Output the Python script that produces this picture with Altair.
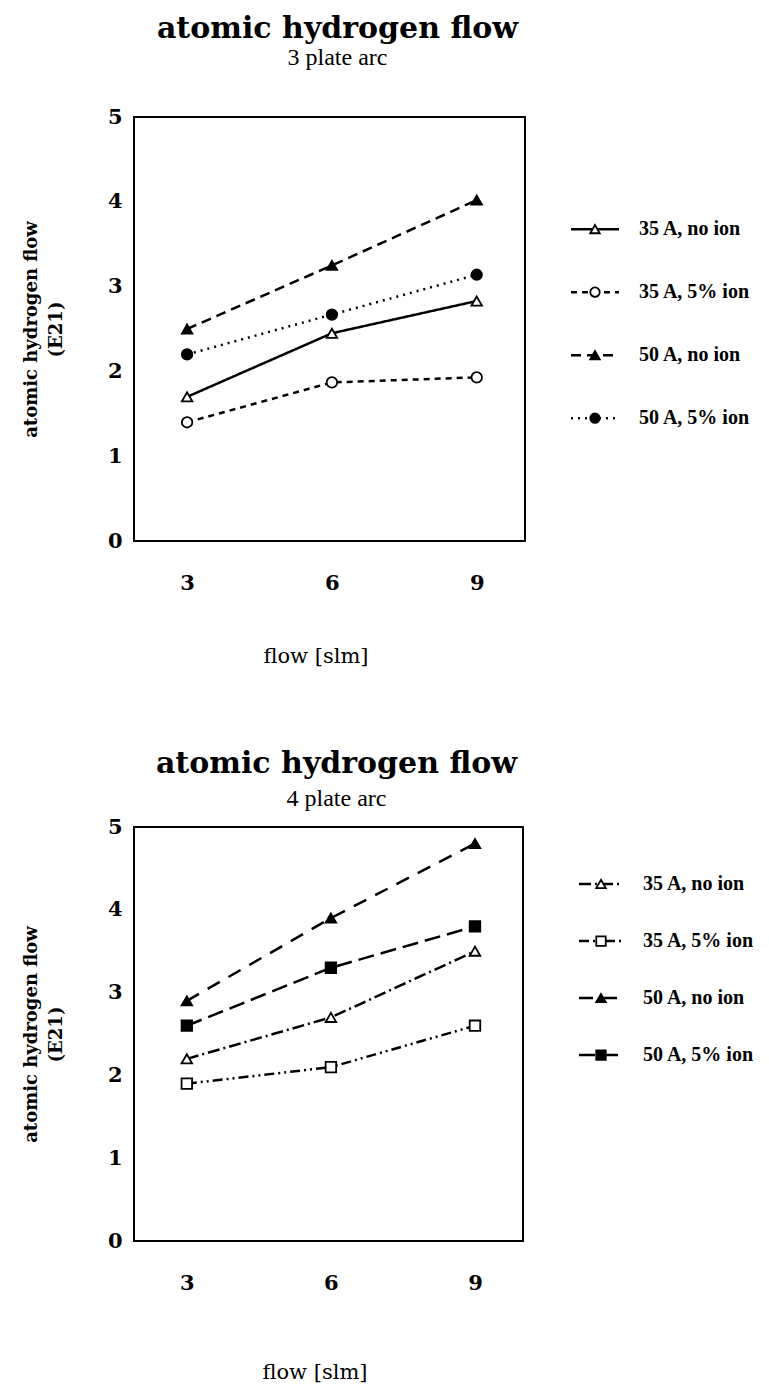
import altair as alt
import pandas as pd

flow = [3, 6, 9]
series = ["35 A, no ion", "35 A, 5% ion", "50 A, no ion", "50 A, 5% ion"]

# 3 plate arc
p3_35_noion = [1.70, 2.45, 2.83]
p3_35_ion = [1.40, 1.87, 1.93]
p3_50_noion = [2.50, 3.25, 4.02]
p3_50_ion = [2.20, 2.67, 3.14]

# 4 plate arc
p4_35_noion = [2.20, 2.70, 3.50]
p4_35_ion = [1.90, 2.10, 2.60]
p4_50_noion = [2.90, 3.90, 4.80]
p4_50_ion = [2.60, 3.30, 3.80]

y_ticks = [0, 1, 2, 3, 4, 5]
title_main = "atomic hydrogen flow"
sub_top = "3 plate arc"
sub_bot = "4 plate arc"
x_title = "flow [slm]"
y_title = ["atomic hydrogen flow", "(E21)"]

WIDE = "DejaVu Serif"
TIMES = "Liberation Serif"


def build_df(vals):
    rows = []
    for s, v in zip(series, vals):
        for f, y in zip(flow, v):
            rows.append({"series": s, "flow": f, "value": y})
    return pd.DataFrame(rows)


def panel(df, subtitle, dashes, shapes, fills, w, h, t_offset, sub_pad,
          xt_pad, leg_dom, leg_w, lx0, lx1, ltx):
    x = alt.X("flow:Q", scale=alt.Scale(domain=[1.9, 10], nice=False, zero=False),
              axis=alt.Axis(values=flow, title=x_title, grid=False, ticks=False,
                            domain=False, labelFont=WIDE, labelFontSize=21,
                            labelFontWeight="bold", labelColor="black",
                            labelPadding=31, titleFont=WIDE, titleFontSize=21,
                            titleFontWeight="normal", titleColor="black",
                            titlePadding=xt_pad, titleX=w / 2 - 14))
    y = alt.Y("value:Q", scale=alt.Scale(domain=[0, 5], nice=False),
              axis=alt.Axis(values=y_ticks, title=y_title, grid=False, ticks=False,
                            domain=False, labelFont=WIDE, labelFontSize=21,
                            labelFontWeight="bold", labelColor="black",
                            labelPadding=12, titleFont=WIDE, titleFontSize=18,
                            titleFontWeight="bold", titleColor="black",
                            titlePadding=42, titleLineHeight=25))
    dash_scale = alt.Scale(domain=series, range=dashes)
    shape_scale = alt.Scale(domain=series, range=shapes)
    fill_scale = alt.Scale(domain=series, range=fills)

    lines = alt.Chart(df).mark_line(color="black", strokeWidth=2.5).encode(
        x=x, y=y,
        strokeDash=alt.StrokeDash("series:N", scale=dash_scale, legend=None),
        detail="series:N")
    pts = alt.Chart(df).mark_point(filled=True, stroke="black", strokeWidth=1.8,
                                   size=110, opacity=1).encode(
        x=x, y=y,
        shape=alt.Shape("series:N", scale=shape_scale, legend=None),
        fill=alt.Fill("series:N", scale=fill_scale, legend=None))
    plot = (lines + pts).properties(
        width=w, height=h,
        title=alt.TitleParams(text=title_main, subtitle=subtitle, font=WIDE,
                              fontSize=30, fontWeight="bold", color="black",
                              subtitleFont=TIMES, subtitleFontSize=24,
                              subtitleColor="black", subtitlePadding=sub_pad,
                              anchor="middle", dx=8, offset=t_offset))

    leg_df = pd.DataFrame({"series": series, "idx": list(range(len(series)))})
    ly = alt.Y("idx:Q", scale=alt.Scale(domain=leg_dom, reverse=True, nice=False,
                                        zero=False), axis=None)
    base = alt.Chart(leg_df)
    seg = base.mark_rule(color="black", strokeWidth=2.5).encode(
        x=alt.value(lx0), x2=alt.value(lx1), y=ly,
        strokeDash=alt.StrokeDash("series:N", scale=dash_scale, legend=None))
    lpts = base.mark_point(filled=True, stroke="black", strokeWidth=1.8, size=90,
                           opacity=1).encode(
        x=alt.value((lx0 + lx1) / 2), y=ly,
        shape=alt.Shape("series:N", scale=shape_scale, legend=None),
        fill=alt.Fill("series:N", scale=fill_scale, legend=None))
    ltxt = base.mark_text(align="left", baseline="middle", font=TIMES, fontSize=20,
                          fontWeight="bold", color="black").encode(
        x=alt.value(ltx), y=ly, text="series:N")
    legend = (seg + lpts + ltxt).properties(
        width=leg_w, height=h, view=alt.ViewBackground(stroke="transparent"))
    return alt.hconcat(plot, legend, spacing=0)


top = panel(build_df([p3_35_noion, p3_35_ion, p3_50_noion, p3_50_ion]), sub_top,
            [[1, 0], [6, 5], [10, 6], [2, 5]],
            ["triangle-up", "circle", "triangle-up", "circle"],
            ["white", "white", "black", "black"],
            391, 424, 36, 2, 52, [-1.78, 4.95], 225, 44, 92, 112)

bot = panel(build_df([p4_35_noion, p4_35_ion, p4_50_noion, p4_50_ion]), sub_bot,
            [[12, 4, 2, 4], [10, 4, 2, 4, 2, 4], [14, 10], [16, 7]],
            ["triangle-up", "square", "triangle-up", "square"],
            ["white", "white", "black", "black"],
            389, 414, 5, 8, 68, [-1.0, 6.26], 225, 54, 98, 118)

chart = alt.vconcat(top, bot, spacing=81,
                    padding={"left": 13, "top": 5, "right": 5, "bottom": 5}
                    ).resolve_scale(strokeDash="independent", shape="independent",
                                    fill="independent"
                    ).configure_view(stroke="black", strokeWidth=2)

chart.save("out.html", embed_options={"renderer": "svg", "actions": False})
